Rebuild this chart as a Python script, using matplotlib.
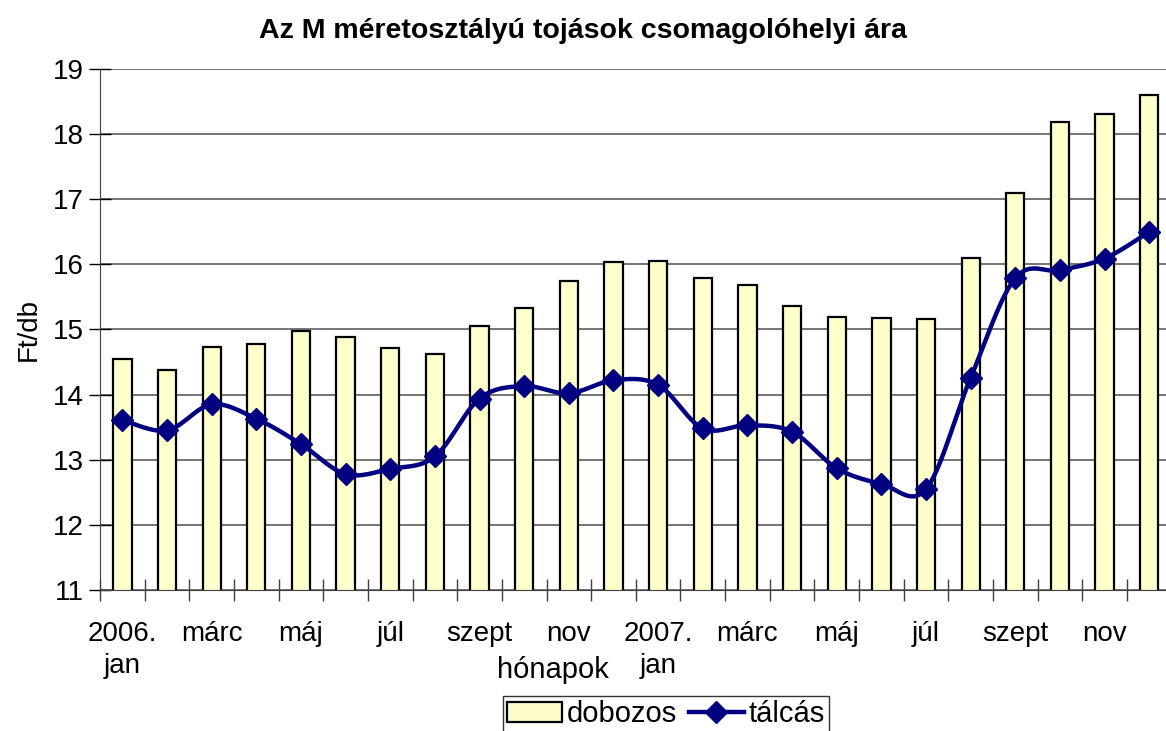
import numpy as np
import matplotlib
matplotlib.use("Agg")
import matplotlib.pyplot as plt
from matplotlib.lines import Line2D
from matplotlib.patches import Patch

plt.rcParams['font.family'] = ['Liberation Sans', 'DejaVu Sans']

# havi adatok, 2006. jan - 2007. dec
months = ["2006.\njan", "", "márc", "", "máj", "", "júl", "", "szept", "", "nov", "",
          "2007.\njan", "", "márc", "", "máj", "", "júl", "", "szept", "", "nov", ""]
dobozos = [14.55, 14.38, 14.73, 14.78, 14.98, 14.88, 14.72, 14.62, 15.05, 15.33, 15.75, 16.04,
           16.05, 15.79, 15.68, 15.36, 15.19, 15.17, 15.16, 16.10, 17.09, 18.19, 18.31, 18.60]
talcas = [13.61, 13.45, 13.85, 13.63, 13.24, 12.78, 12.86, 13.05, 13.94, 14.13, 14.02, 14.22,
          14.15, 13.48, 13.53, 13.43, 12.87, 12.63, 12.55, 14.26, 15.79, 15.91, 16.09, 16.50]


# Excel-style smoothed line (Catmull-Rom through the points, as cubic Bezier)
def smooth(xs, ys, n=30):
    p = np.column_stack([xs, ys]).astype(float)
    p = np.vstack([p[0], p, p[-1]])
    out = []
    t = np.linspace(0, 1, n)[:, None]
    for i in range(1, len(p) - 2):
        p0 = p[i]
        p3 = p[i + 1]
        c1 = p0 + (p[i + 1] - p[i - 1]) / 6
        c2 = p3 - (p[i + 2] - p[i]) / 6
        seg = ((1 - t) ** 3) * p0 + 3 * ((1 - t) ** 2) * t * c1 + 3 * (1 - t) * t ** 2 * c2 + t ** 3 * p3
        out.append(seg)
    s = np.vstack(out)
    return s[:, 0], s[:, 1]


fig = plt.figure(figsize=(11.66, 7.31), dpi=100)
ax = fig.add_axes([0.0858, 0.1929, 0.919, 0.7127])

x = np.arange(len(dobozos))
ax.bar(x, dobozos, width=0.41, bottom=0, color="#FFFFCC", edgecolor="black", linewidth=1.6, zorder=2)

sx, sy = smooth(x, talcas)
ax.plot(sx, sy, color="#000080", linewidth=3.2, zorder=3, solid_capstyle="round")
ax.plot(x, talcas, linestyle="none", marker="D", markersize=11, color="#000080", zorder=4)

ax.set_xlim(-0.5, len(x) - 0.5)
ax.set_ylim(11, 19)
ax.set_yticks(range(11, 20))
ax.yaxis.grid(True, color="#505050", linewidth=1.1, zorder=0)
ax.set_axisbelow(True)

ax.set_xticks(np.arange(-0.5, len(x), 1.0))
ax.set_xticklabels([])
ax.set_xticks(x, months, minor=True)
ax.tick_params(axis="x", which="major", direction="inout", length=16, width=1, color="#404040")
ax.tick_params(axis="x", which="minor", length=0, labelsize=20, pad=22)
ax.tick_params(axis="y", direction="inout", length=16, width=1, labelsize=20, pad=4)
for lab in ax.get_xticklabels(minor=True):
    lab.set_linespacing(1.3)

for s in ("top", "right"):
    ax.spines[s].set_visible(False)
ax.spines["left"].set_color("#404040")
ax.spines["bottom"].set_color("#404040")

ax.set_ylabel("Ft/db", fontsize=20, labelpad=8)
fig.text(0.474, 0.083, "hónapok", fontsize=21, ha="center", va="center")
fig.text(0.5, 0.958, "Az M méretosztályú tojások csomagolóhelyi ára", fontsize=20.5,
         fontweight="bold", ha="center", va="center")

handles = [Patch(facecolor="#FFFFCC", edgecolor="black", linewidth=1.6),
           Line2D([], [], color="#000080", linewidth=3.2, marker="D", markersize=11)]
leg = fig.legend(handles, ["dobozos", "tálcás"], loc="center", bbox_to_anchor=(0.571, 0.023),
                 ncol=2, fontsize=21, frameon=True, fancybox=False, edgecolor="black",
                 handlelength=1.9, handletextpad=0.15, columnspacing=0.4, borderpad=0.15,
                 borderaxespad=0)
leg.get_frame().set_linewidth(1)

fig.savefig("out.png", dpi=100)
